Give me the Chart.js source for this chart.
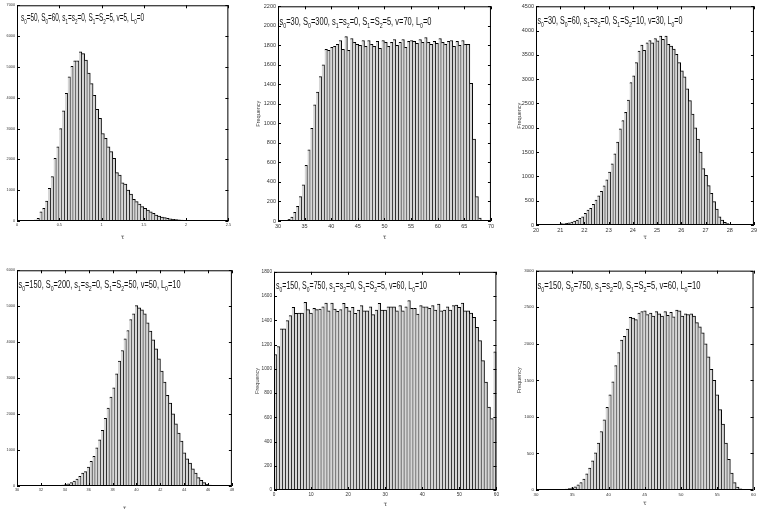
<!DOCTYPE html>
<html>
<head>
<meta charset="utf-8">
<script src="https://cdn.jsdelivr.net/npm/chart.js@4.4.1/dist/chart.umd.min.js"></script>
<style>
  html, body { margin: 0; padding: 0; background: #fff; }
  body { position: relative; width: 759px; height: 509px; overflow: hidden; }
  canvas { position: absolute; }
</style>
</head>
<body>
<canvas id="h1"></canvas>
<canvas id="h2"></canvas>
<canvas id="h3"></canvas>
<canvas id="h4"></canvas>
<canvas id="h5"></canvas>
<canvas id="h6"></canvas>
<script>
// histogram data: first bin centre, bin width, counts per bin

// panel 1
const first1 = 0.1167, width1 = 1 / 30;
const counts1 = [5, 10, 15, 30, 85, 300, 410, 650, 1060, 1440, 2030, 2410, 3000, 3575, 4140, 4680,
  5020, 5200, 5200, 5490, 5430, 5220, 4800, 4460, 4080, 3620, 3330, 2840, 2680, 2410, 2250, 2030,
  1570, 1490, 1240, 1200, 1000, 875, 700, 630, 550, 465, 410, 356, 300, 250, 195, 160, 130, 110,
  90, 70, 55, 45, 35, 28, 22, 15, 10, 6, 4];
const xTicks1 = [0, 0.5, 1, 1.5, 2, 2.5];
const yTicks1 = [0, 1000, 2000, 3000, 4000, 5000, 6000, 7000];
const label1 = 's_0=50, S_0=60, s_1=s_2=0, S_1=S_2=5, v=5, L_0=0';

// panel 2
const first2 = 31.0, width2 = 0.535;
const counts2 = [3, 8, 18, 40, 90, 150, 250, 370, 570, 730, 950, 1190, 1320, 1480, 1600, 1760,
  1750, 1780, 1790, 1810, 1850, 1760, 1890, 1750, 1870, 1830, 1810, 1800, 1850, 1790, 1850, 1810,
  1790, 1840, 1770, 1850, 1830, 1790, 1830, 1860, 1800, 1830, 1860, 1780, 1840, 1850, 1840, 1820,
  1860, 1830, 1880, 1830, 1810, 1840, 1820, 1870, 1830, 1810, 1840, 1850, 1790, 1840, 1800, 1850,
  1810, 1810, 1410, 840, 250, 30];
const xTicks2 = [30, 35, 40, 45, 50, 55, 60, 65, 70];
const yTicks2 = [0, 200, 400, 600, 800, 1000, 1200, 1400, 1600, 1800, 2000, 2200];
const label2 = 's_0=30, S_0=300, s_1=s_2=0, S_1=S_2=5, v=70, L_0=0';

// panel 3
const first3 = 20.48, width3 = 0.111;
const counts3 = [5, 5, 8, 10, 12, 30, 25, 35, 45, 60, 80, 100, 136, 170, 240, 307, 341, 423, 511,
  600, 695, 805, 927, 1090, 1261, 1466, 1704, 1977, 2147, 2318, 2570, 2931, 3068, 3340, 3579, 3701,
  3592, 3749, 3797, 3749, 3838, 3790, 3885, 3818, 3885, 3715, 3680, 3620, 3510, 3340, 3170, 3050,
  2800, 2560, 2280, 2000, 1770, 1500, 1160, 1020, 810, 650, 480, 330, 170, 100, 55, 30, 15, 8, 4];
const xTicks3 = [20, 21, 22, 23, 24, 25, 26, 27, 28, 29];
const yTicks3 = [0, 500, 1000, 1500, 2000, 2500, 3000, 3500, 4000, 4500];
const label3 = 's_0=30, S_0=60, s_1=s_2=0, S_1=S_2=10, v=30, L_0=0';

// panel 4
const first4 = 32.654, width4 = 0.237;
const counts4 = [2, 4, 6, 10, 15, 25, 40, 60, 93, 139, 194, 269, 361, 398, 528, 685, 824, 1065,
  1287, 1546, 1880, 2167, 2472, 2731, 3120, 3472, 3769, 4093, 4324, 4630, 4787, 5019, 4954, 4898,
  4787, 4537, 4306, 4065, 3815, 3537, 3194, 2889, 2519, 2306, 2009, 1731, 1472, 1250, 926, 759,
  639, 481, 361, 231, 157, 93, 46, 28, 15, 8, 4, 2];
const xTicks4 = [30, 32, 34, 36, 38, 40, 42, 44, 46, 48];
const yTicks4 = [0, 1000, 2000, 3000, 4000, 5000, 6000];
const label4 = 's_0=150, S_0=200, s_1=s_2=0, S_1=S_2=50, v=50, L_0=10';

// panel 5
const first5 = 0.4, width5 = 0.8;
const counts5 = [1118, 1184, 1329, 1329, 1397, 1438, 1507, 1458, 1460, 1460, 1548, 1488, 1460,
  1499, 1488, 1493, 1512, 1542, 1479, 1542, 1493, 1474, 1488, 1540, 1507, 1479, 1507, 1458, 1485,
  1521, 1479, 1479, 1512, 1447, 1485, 1540, 1485, 1485, 1512, 1512, 1512, 1479, 1521, 1479, 1512,
  1562, 1499, 1499, 1452, 1521, 1512, 1512, 1499, 1521, 1485, 1534, 1479, 1485, 1512, 1485, 1521,
  1526, 1507, 1542, 1479, 1479, 1460, 1425, 1342, 1233, 1068, 890, 685, 589, 1140];
const xTicks5 = [0, 10, 20, 30, 40, 50, 60];
const yTicks5 = [0, 200, 400, 600, 800, 1000, 1200, 1400, 1600, 1800];
const label5 = 's_0=150, S_0=750, s_1=s_2=0, S_1=S_2=5, v=60, L_0=10';

// panel 6
const first6 = 33.0, width6 = 0.4;
const counts6 = [3, 5, 8, 12, 18, 30, 45, 70, 100, 150, 220, 300, 400, 510, 640, 800, 960, 1130,
  1300, 1480, 1700, 1880, 2050, 2100, 2200, 2360, 2350, 2330, 2420, 2440, 2450, 2400, 2420, 2380,
  2440, 2410, 2380, 2440, 2390, 2430, 2370, 2460, 2450, 2380, 2410, 2400, 2410, 2380, 2290, 2230,
  2150, 2000, 1820, 1650, 1500, 1300, 1100, 900, 640, 420, 230, 100, 40, 15, 5];
const xTicks6 = [30, 35, 40, 45, 50, 55, 60];
const yTicks6 = [0, 500, 1000, 1500, 2000, 2500, 3000];
const label6 = 's_0=150, S_0=750, s_1=s_2=0, S_1=S_2=5, v=60, L_0=10';

const Y_W = 24, X_H = 26, PAD_T = 4, PAD_R = 4;
const sans = 'Liberation Sans, Arial, sans-serif';

// MATLAB-ish box, inward ticks and the parameter line
const frame = {
  id: 'frame',
  afterDraw(chart, args, opts) {
    const { ctx, chartArea: a, scales: { x, y } } = chart;
    ctx.save();
    ctx.strokeStyle = '#000';
    ctx.lineWidth = 1;
    ctx.strokeRect(a.left + 0.5, a.top + 0.5, a.right - a.left - 1, a.bottom - a.top - 1);
    ctx.beginPath();
    x.ticks.forEach(t => {
      const px = Math.round(x.getPixelForValue(t.value)) + 0.5;
      ctx.moveTo(px, a.bottom); ctx.lineTo(px, a.bottom - 3);
      ctx.moveTo(px, a.top); ctx.lineTo(px, a.top + 3);
    });
    y.ticks.forEach(t => {
      const py = Math.round(y.getPixelForValue(t.value)) + 0.5;
      ctx.moveTo(a.left, py); ctx.lineTo(a.left + 3, py);
      ctx.moveTo(a.right, py); ctx.lineTo(a.right - 3, py);
    });
    ctx.stroke();

    // parameter line with subscripts, squeezed to the width seen in the figure
    const parts = opts.text.split(/_(\d)/);
    const fontOf = sub => (sub ? '7px ' : '10px ') + sans;
    let full = 0;
    parts.forEach((s, i) => { ctx.font = fontOf(i % 2 === 1); full += ctx.measureText(s).width; });
    ctx.translate(a.left + opts.dx, a.top + opts.dy);
    ctx.scale(opts.w / full, 1);
    ctx.fillStyle = '#111';
    ctx.textBaseline = 'alphabetic';
    let tx = 0;
    parts.forEach((s, i) => {
      const sub = i % 2 === 1;
      ctx.font = fontOf(sub);
      ctx.fillText(s, tx, sub ? 3 : 0);
      tx += ctx.measureText(s).width;
    });
    ctx.restore();
  }
};

function histogram(id, box, first, width, counts, xTicks, yTicks, text, o) {
  const cv = document.getElementById(id);
  const w = box[2] - box[0] + Y_W + PAD_R;
  const h = box[3] - box[1] + PAD_T + X_H;
  cv.width = w; cv.height = h;
  cv.style.width = w + 'px'; cv.style.height = h + 'px';
  cv.style.left = (box[0] - Y_W) + 'px';
  cv.style.top = (box[1] - PAD_T) + 'px';
  const tickFont = { family: sans, size: o.tick };

  new Chart(cv, {
    type: 'bar',
    data: {
      datasets: [{
        data: counts.map((c, i) => ({ x: first + i * width, y: c })),
        backgroundColor: '#d6d6d6',
        borderColor: '#000',
        borderWidth: { top: 1, right: 1, left: 0, bottom: 0 },
        borderSkipped: false,
        barPercentage: 1,
        categoryPercentage: 1
      }]
    },
    options: {
      responsive: false,
      animation: false,
      devicePixelRatio: 1,
      events: [],
      layout: { padding: { top: PAD_T, right: PAD_R, left: 0, bottom: 0 } },
      plugins: {
        legend: { display: false },
        tooltip: { enabled: false },
        frame: { text: text, dx: o.dx, dy: o.dy, w: o.noteW }
      },
      scales: {
        x: {
          type: 'linear',
          min: xTicks[0],
          max: xTicks[xTicks.length - 1],
          offset: false,
          grid: { display: false, drawTicks: false, offset: false },
          border: { display: false },
          afterBuildTicks: s => { s.ticks = xTicks.map(v => ({ value: v })); },
          afterFit: s => { s.height = X_H; },
          ticks: { font: tickFont, color: '#333', padding: 2, maxRotation: 0, autoSkip: false,
                   callback: v => String(v) },
          title: { display: true, text: 'τ', color: '#333',
                   font: { family: 'DejaVu Sans, sans-serif', size: 6 },
                   padding: { top: 0, bottom: o.tauPad } }
        },
        y: {
          min: yTicks[0],
          max: yTicks[yTicks.length - 1],
          grid: { display: false, drawTicks: false },
          border: { display: false },
          afterBuildTicks: s => { s.ticks = yTicks.map(v => ({ value: v })); },
          afterFit: s => { s.width = Y_W; },
          ticks: { font: tickFont, color: '#333', padding: 2, callback: v => String(v) },
          title: { display: o.freq, text: 'Frequency', color: '#444',
                   font: { family: sans, size: 5.5 },
                   padding: { top: o.freqPad, bottom: 0 } }
        }
      }
    },
    plugins: [frame]
  });
}

histogram('h1', [17, 5, 229, 221], first1, width1, counts1, xTicks1, yTicks1, label1,
  { dx: 4, dy: 15.7, noteW: 123, tick: 3.8, tauPad: 6.4, freq: false, freqPad: 0 });
histogram('h2', [278, 5, 492, 221], first2, width2, counts2, xTicks2, yTicks2, label2,
  { dx: 1.5, dy: 18.3, noteW: 152, tick: 5.5, tauPad: 6.4, freq: true, freqPad: 0.7 });
histogram('h3', [536, 5, 755, 225], first3, width3, counts3, xTicks3, yTicks3, label3,
  { dx: 1.5, dy: 17.7, noteW: 145, tick: 5.5, tauPad: 10.4, freq: true, freqPad: 3.7 });
histogram('h4', [17, 270, 232, 486], first4, width4, counts4, xTicks4, yTicks4, label4,
  { dx: 1.5, dy: 17.3, noteW: 162, tick: 3.8, tauPad: 0.4, freq: false, freqPad: 0 });
histogram('h5', [274, 271, 497, 490], first5, width5, counts5, xTicks5, yTicks5, label5,
  { dx: 2, dy: 17.3, noteW: 151, tick: 4.7, tauPad: 8.4, freq: true, freqPad: 3.7 });
histogram('h6', [536, 270, 754, 490], first6, width6, counts6, xTicks6, yTicks6, label6,
  { dx: 1.5, dy: 18.3, noteW: 163, tick: 4.4, tauPad: 9.4, freq: true, freqPad: 3.7 });
</script>
</body>
</html>
